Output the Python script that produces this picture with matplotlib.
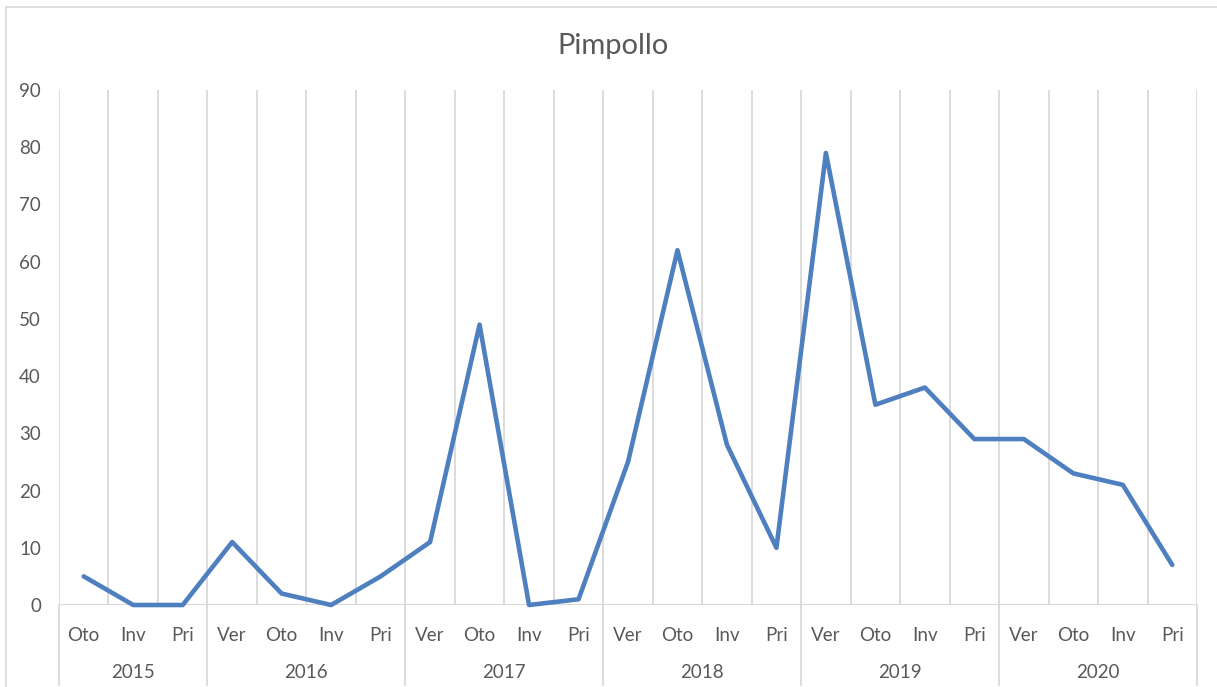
import matplotlib.pyplot as plt
from matplotlib.lines import Line2D
import matplotlib.transforms as mtransforms

plt.rcParams['font.family'] = ['Lato', 'DejaVu Sans']

# quarters per year (2015 starts in autumn)
years = ['2015', '2016', '2017', '2018', '2019', '2020']
seasons = [['Oto', 'Inv', 'Pri'],
           ['Ver', 'Oto', 'Inv', 'Pri'],
           ['Ver', 'Oto', 'Inv', 'Pri'],
           ['Ver', 'Oto', 'Inv', 'Pri'],
           ['Ver', 'Oto', 'Inv', 'Pri'],
           ['Ver', 'Oto', 'Inv', 'Pri']]
values = [5, 0, 0,
          11, 2, 0, 5,
          11, 49, 0, 1,
          25, 62, 28, 10,
          79, 35, 38, 29,
          29, 23, 21, 7]

labels = [s for grp in seasons for s in grp]
n = len(labels)
x = list(range(n))

W, H = 1217, 687
fig = plt.figure(figsize=(W / 100, H / 100), dpi=100)
ax = fig.add_axes([59 / W, 1 - 605 / H, (1197 - 59) / W, (605 - 90) / H])

grid_col = '#D9D9D9'
text_col = '#595959'

# chart border (left and top visible)
fig.add_artist(Line2D([6 / W, 6 / W], [0, 1 - 7 / H], color=grid_col, lw=1.2))
fig.add_artist(Line2D([6 / W, 1], [1 - 7 / H, 1 - 7 / H], color=grid_col, lw=1.2))

ax.plot(x, values, color='#4E7FBF', lw=3.3, solid_joinstyle='round',
        solid_capstyle='round', zorder=3, clip_on=False)

ax.set_xlim(-0.5, n - 0.5)
ax.set_ylim(0, 90)
ax.set_yticks(range(0, 91, 10))
ax.tick_params(axis='y', length=0, pad=13, labelsize=13.5, labelcolor=text_col)

# vertical gridlines between categories
for b in range(n + 1):
    ax.axvline(b - 0.5, color=grid_col, lw=1.3, zorder=1)
ax.axhline(0, color=grid_col, lw=1.5, zorder=2)

for side in ['left', 'right', 'top', 'bottom']:
    ax.spines[side].set_visible(False)

# season labels
ax.set_xticks(x)
ax.set_xticklabels(labels)
ax.tick_params(axis='x', length=0, pad=16, labelsize=13.5, labelcolor=text_col)

# year labels and separators under the axis
trans = mtransforms.blended_transform_factory(ax.transData, ax.transAxes)
px = 1 / 515
start = 0
ax.plot([-0.5, -0.5], [0, -80 * px], transform=trans, color=grid_col,
        lw=1.3, clip_on=False)
for yr, grp in zip(years, seasons):
    end = start + len(grp)
    ax.text((start + end - 1) / 2, -67 * px, yr, transform=trans,
            ha='center', va='center', fontsize=13.5, color=text_col)
    ax.plot([end - 0.5, end - 0.5], [0, -80 * px], transform=trans,
            color=grid_col, lw=1.3, clip_on=False)
    start = end

fig.text(613 / W, 1 - 46 / H, 'Pimpollo', ha='center',
         va='center', fontsize=21, color=text_col)

fig.savefig('out.png', dpi=100)
